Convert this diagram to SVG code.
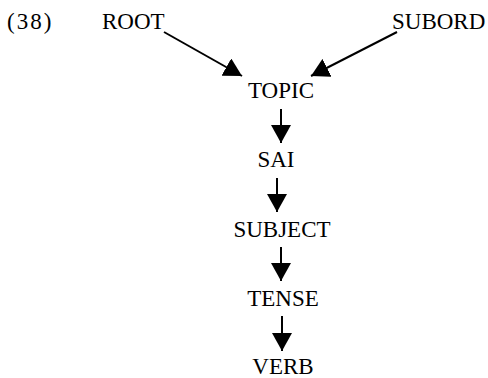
<svg xmlns="http://www.w3.org/2000/svg" width="488" height="378" viewBox="0 0 488 378">
<style>
text{font-family:"Liberation Serif","Times New Roman",serif;font-size:23px;fill:#000}
.c{text-anchor:middle}
.e{stroke:#000;stroke-width:2;fill:none}
</style>
<defs>
<marker id="ah" viewBox="0 0 18 20" refX="18" refY="10" markerWidth="18" markerHeight="20" markerUnits="userSpaceOnUse" orient="auto">
<path d="M0,0 L18,10 L0,20 Z" fill="#000"/>
</marker>
</defs>
<rect width="488" height="378" fill="#fff"/>
<text id="label" x="7" y="29" letter-spacing="2">(38)</text>
<g id="root"><text x="102" y="29">ROOT</text></g>
<g id="subord"><text x="392" y="29">SUBORD</text></g>
<g id="topic"><text class="c" x="281" y="98">TOPIC</text></g>
<g id="sai"><text class="c" x="276" y="167">SAI</text></g>
<g id="subject"><text class="c" x="282" y="237">SUBJECT</text></g>
<g id="tense"><text class="c" x="283" y="306">TENSE</text></g>
<g id="verb"><text class="c" x="283" y="374">VERB</text></g>
<g id="connectors">
<line class="e" x1="164" y1="32" x2="242" y2="76" marker-end="url(#ah)"/>
<line class="e" x1="397" y1="32" x2="311" y2="76" marker-end="url(#ah)"/>
<line class="e" x1="281" y1="109" x2="281" y2="143" marker-end="url(#ah)"/>
<line class="e" x1="277" y1="178" x2="277" y2="212" marker-end="url(#ah)"/>
<line class="e" x1="281" y1="247" x2="281" y2="281" marker-end="url(#ah)"/>
<line class="e" x1="282" y1="316" x2="282" y2="351" marker-end="url(#ah)"/>
</g>
</svg>
